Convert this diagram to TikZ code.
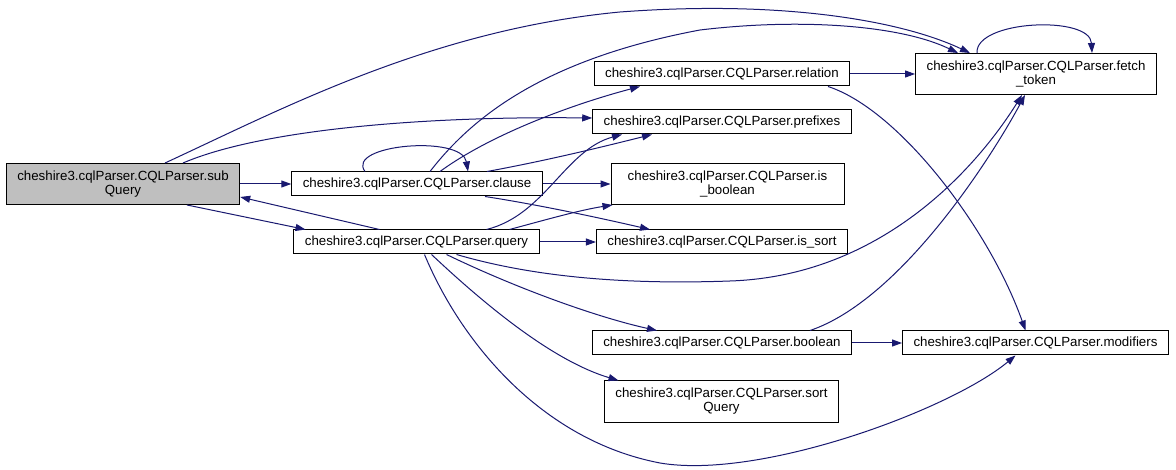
\documentclass[tikz,border=0pt]{standalone}
\usepackage{fontspec}
\setmainfont{Liberation Sans}
\usepackage{tikz}
\usetikzlibrary{arrows.meta, positioning, calc}
\usepackage{xcolor}
\definecolor{callblue}{RGB}{25,25,112}
\tikzstyle{func} = [rectangle, draw=black, line width=1pt, fill=white, inner xsep=11pt, inner ysep=0pt, minimum height=24pt, align=center]
\tikzstyle{multi} = [minimum height=41pt]
\tikzstyle{callarrow} = [line width=1pt, draw=callblue, -{Triangle[length=10pt,width=7pt]}]

\begin{document}
\begin{tikzpicture}[x=1pt, y=-1pt, every node/.style={font=\fontsize{13.3}{14}\selectfont}]
  \useasboundingbox (0,0) rectangle (1176,470);
  \fill[white] (0,0) rectangle (1176,470);

  % functions
  \node[func, multi, fill=black!25] (subQuery) at (123,184) {cheshire3.cqlParser.CQLParser.sub\\Query};
  \node[func] (clause) at (417,184) {cheshire3.cqlParser.CQLParser.clause};
  \node[func] (query) at (416.5,242) {cheshire3.cqlParser.CQLParser.query};
  \node[func] (relation) at (722,74) {cheshire3.cqlParser.CQLParser.relation};
  \node[func] (prefixes) at (722,122) {cheshire3.cqlParser.CQLParser.prefixes};
  \node[func, multi, minimum width=233pt] (isBoolean) at (727.5,184) {cheshire3.cqlParser.CQLParser.is\\\_boolean};
  \node[func] (isSort) at (722,242) {cheshire3.cqlParser.CQLParser.is\_sort};
  \node[func, multi] (fetchToken) at (1036,74) {cheshire3.cqlParser.CQLParser.fetch\\\_token};
  \node[func] (boolean) at (722,343) {cheshire3.cqlParser.CQLParser.boolean};
  \node[func, multi] (sortQuery) at (721.5,401.5) {cheshire3.cqlParser.CQLParser.sort\\Query};
  \node[func] (modifiers) at (1035.5,343) {cheshire3.cqlParser.CQLParser.modifiers};

  % calls from subQuery
  \draw[callarrow] (subQuery.east) -- (clause.west);
  \draw[callarrow] ([xshift=64pt]subQuery.south) -- ([xshift=-111pt]query.north);
  \draw[callarrow] ([xshift=42pt]subQuery.north) .. controls (280,110) and (430,30) .. (620,12)
    .. controls (780,0) and (900,20) .. ([xshift=-66pt]fetchToken.north);
  \draw[callarrow] ([xshift=60pt]subQuery.north) .. controls (260,130) and (420,116) .. ([yshift=4pt]prefixes.west);

  % calls from clause
  \draw[callarrow] ([xshift=-52pt]clause.north) .. controls +(-20,-27) and +(-6,-37) .. ([xshift=51pt]clause.north);
  \draw[callarrow] ([xshift=13pt]clause.north) .. controls (470,120) and (540,60) .. (700,30)
    .. controls (800,18) and (900,25) .. ([xshift=-78pt]fetchToken.north);
  \draw[callarrow] ([xshift=23pt]clause.north) .. controls (490,135) and (570,105) .. ([xshift=-82pt]relation.south);
  \draw[callarrow] ([xshift=70pt]clause.north) .. controls (550,160) and (610,145) .. ([xshift=-70pt]prefixes.south);
  \draw[callarrow] (clause.east) -- (isBoolean.west);
  \draw[callarrow] ([xshift=68pt]clause.south) .. controls (540,205) and (600,218) .. ([xshift=-72pt]isSort.north);

  % calls from query
  \draw[callarrow] ([xshift=-37pt]query.north) -- ([yshift=-13pt]subQuery.east);
  \draw[callarrow] ([xshift=70pt]query.north) .. controls (545,215) and (565,150) .. ([xshift=-100pt]prefixes.south);
  \draw[callarrow] ([xshift=93pt]query.north) .. controls (545,220) and (580,210) .. ([xshift=2pt]isBoolean.south west);
  \draw[callarrow] (query.east) -- (isSort.west);
  \draw[callarrow] ([xshift=40pt]query.south) .. controls (530,276) and (620,285) .. (730,281)
    .. controls (880,276) and (975,170) .. ([xshift=-14pt]fetchToken.south);
  \draw[callarrow] ([xshift=30pt]query.south) .. controls (520,290) and (600,318) .. ([xshift=-65pt]boolean.north);
  \draw[callarrow] ([xshift=15pt]query.south) .. controls (480,300) and (550,360) .. ([xshift=-103pt]sortQuery.north);
  \draw[callarrow] ([xshift=8pt]query.south) .. controls (460,340) and (540,440) .. (660,463)
    .. controls (760,480) and (950,410) .. ([xshift=-20pt]modifiers.south);

  % calls from relation, boolean, fetch_token
  \draw[callarrow] (relation.east) -- (fetchToken.west);
  \draw[callarrow] ([xshift=106pt]relation.south) .. controls (900,110) and (990,230) .. ([xshift=-10pt]modifiers.north);
  \draw[callarrow] (boolean.east) -- (modifiers.west);
  \draw[callarrow] ([xshift=88pt]boolean.north) .. controls (900,300) and (990,160) .. ([xshift=-11pt]fetchToken.south);
  \draw[callarrow] ([xshift=-59pt]fetchToken.north) .. controls +(-2,-33) and +(-2,-38) .. ([xshift=56pt]fetchToken.north);
\end{tikzpicture}
\end{document}
